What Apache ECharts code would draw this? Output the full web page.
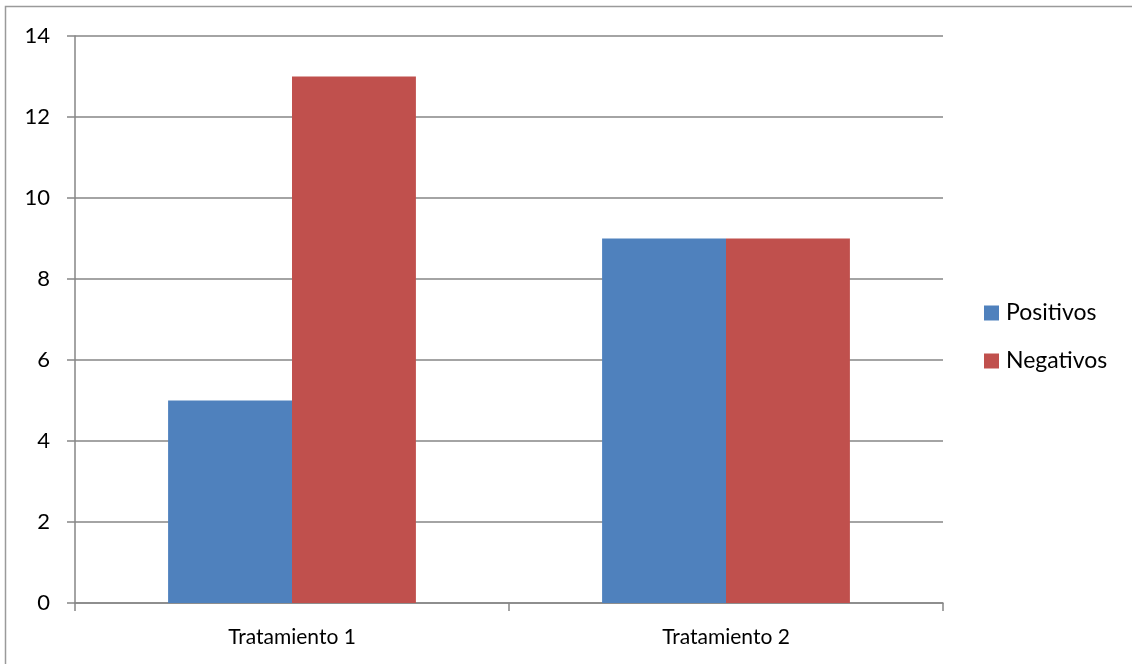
<!DOCTYPE html>
<html>
<head>
<meta charset="utf-8">
<script src="https://cdn.jsdelivr.net/npm/echarts@6/dist/echarts.min.js"></script>
<style>
  html, body { margin: 0; padding: 0; background: #fff; }
  #chart { width: 1132px; height: 664px; }
</style>
</head>
<body>
<div id="chart"></div>
<script>
const categories = ['Tratamiento 1', 'Tratamiento 2'];
const positivos = [5, 9];
const negativos = [13, 9];
const seriesNames = ['Positivos', 'Negativos'];

const FONT = 'Lato, "Open Sans", sans-serif';
const chart = echarts.init(document.getElementById('chart'), null, { renderer: 'canvas' });

chart.setOption({
  animation: false,
  backgroundColor: '#ffffff',
  graphic: [{
    type: 'rect',
    shape: { x: 5.5, y: 6.5, width: 1140, height: 680 },
    style: { fill: 'none', stroke: '#9a9a9a', lineWidth: 1.5 },
    silent: true
  }],
  grid: { left: 75, right: 189, top: 36, bottom: 61, containLabel: false },
  legend: {
    orient: 'vertical',
    left: 984,
    top: 300,
    padding: 0,
    itemWidth: 15,
    itemHeight: 15,
    itemGap: 22,
    icon: 'rect',
    data: seriesNames,
    textStyle: { fontFamily: FONT, fontSize: 23, color: '#000', lineHeight: 26, padding: [0, 0, 0, 2] }
  },
  xAxis: {
    type: 'category',
    data: categories,
    axisLine: { lineStyle: { color: '#868686', width: 1.5 } },
    axisTick: { show: true, length: 8, interval: 0, lineStyle: { color: '#868686', width: 1.5 } },
    axisLabel: { fontFamily: FONT, fontSize: 21, color: '#000', margin: 24 }
  },
  yAxis: {
    type: 'value',
    min: 0,
    max: 14,
    interval: 2,
    axisLine: { show: true, lineStyle: { color: '#868686', width: 1.5 } },
    axisTick: { show: true, length: 8, lineStyle: { color: '#868686', width: 1.5 } },
    axisLabel: { fontFamily: FONT, fontSize: 22, color: '#000', margin: 25 },
    splitLine: { lineStyle: { color: '#868686', width: 1.5 } }
  },
  series: [
    {
      name: seriesNames[0],
      type: 'bar',
      data: positivos,
      barGap: '0%',
      barCategoryGap: '42.9%',
      itemStyle: { color: '#4F81BD' }
    },
    {
      name: seriesNames[1],
      type: 'bar',
      data: negativos,
      barGap: '0%',
      barCategoryGap: '42.9%',
      itemStyle: { color: '#C0504D' }
    }
  ]
});
</script>
</body>
</html>
